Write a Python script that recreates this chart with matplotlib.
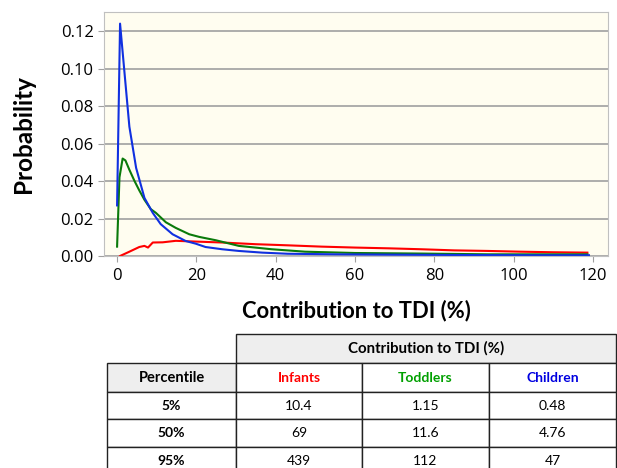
import matplotlib
matplotlib.use("Agg")
import matplotlib.pyplot as plt
from matplotlib.patches import Rectangle

# curve points
children_x = [0.0, 0.75, 3.1, 4.8, 6.9, 9.0, 11.0, 14.0, 17.3, 19.8, 22.3, 26.5, 30.7, 36.6, 43.0, 55.0, 70.0, 90.0, 105.0, 119.0]
children_y = [0.027, 0.124, 0.069, 0.047, 0.031, 0.023, 0.017, 0.0116, 0.008, 0.0066, 0.0048, 0.0036, 0.0027, 0.0018, 0.0012, 0.0009, 0.0007, 0.0005, 0.0004, 0.0004]

toddlers_x = [0.0, 0.6, 1.4, 2.1, 3.1, 4.4, 5.6, 6.9, 8.5, 9.8, 12.3, 14.8, 18.2, 20.7, 24.9, 30.7, 39.0, 47.4, 60.0, 76.7, 93.5, 118.6]
toddlers_y = [0.005, 0.042, 0.052, 0.051, 0.046, 0.040, 0.035, 0.030, 0.025, 0.023, 0.018, 0.015, 0.0116, 0.0102, 0.0084, 0.0054, 0.0036, 0.0023, 0.0016, 0.0013, 0.0009, 0.0009]

infants_x = [0.75, 3.1, 5.6, 6.9, 7.8, 9.0, 11.5, 14.8, 19.8, 26.5, 34.9, 43.0, 51.6, 60.0, 68.4, 76.7, 85.0, 93.5, 101.8, 110.0, 118.6]
infants_y = [0.0, 0.0023, 0.0048, 0.0054, 0.0045, 0.0072, 0.0073, 0.0081, 0.0077, 0.0072, 0.0063, 0.0057, 0.005, 0.0045, 0.0041, 0.0036, 0.003, 0.0027, 0.0023, 0.002, 0.0018]

# table
groups = ["Infants", "Toddlers", "Children"]
group_colors = ["#ff0000", "#00a000", "#0000e0"]
percentiles = ["5%", "50%", "95%"]
table_vals = [["10.4", "1.15", "0.48"],
              ["69", "11.6", "4.76"],
              ["439", "112", "47"]]

W, H = 617, 468
fig = plt.figure(figsize=(W / 100, H / 100), dpi=100)

ax = fig.add_axes([104 / W, 1 - 256 / H, (608 - 104) / W, (256 - 12) / H])
ax.set_facecolor("#fffdf0")
ax.plot(infants_x, infants_y, color="#ff0000", lw=1.5)
ax.plot(toddlers_x, toddlers_y, color="#0a7a0a", lw=1.5)
ax.plot(children_x, children_y, color="#1030e0", lw=1.5)
ax.set_xlim(-3.3, 123.8)
ax.set_ylim(0, 0.1302)
ax.set_xticks([0, 20, 40, 60, 80, 100, 120])
ax.set_yticks([0, 0.02, 0.04, 0.06, 0.08, 0.10, 0.12])
ax.set_yticklabels(["0.00", "0.02", "0.04", "0.06", "0.08", "0.10", "0.12"])
ax.grid(axis="y", color="#a0a0a0", lw=1.2)
ax.set_axisbelow(True)
for s in ax.spines.values():
    s.set_color("#c0c0c0")
ax.tick_params(colors="#a0a0a0", labelcolor="black", length=4, labelsize=12)
ax.tick_params(axis="x", pad=5)
for lab in ax.get_xticklabels() + ax.get_yticklabels():
    lab.set_family("Open Sans")
ax.set_ylabel("Probability", family="Lato", weight="bold", fontsize=17.5, labelpad=18)
ax.set_xlabel("Contribution to TDI (%)", family="Lato", weight="bold", fontsize=15.8, labelpad=11)

# table drawn in pixel coordinates
tx = fig.add_axes([0, 0, 1, 1])
tx.set_xlim(0, W)
tx.set_ylim(H, 0)
tx.axis("off")
cols = [107, 236, 362, 489, 616]
rows = [334, 363, 392, 419, 447, 475]


def cell(x0, x1, y0, y1, fc):
    tx.add_patch(Rectangle((x0, y0), x1 - x0, y1 - y0, facecolor=fc, edgecolor="#222222", lw=1.0))


cell(cols[1], cols[4], rows[0], rows[1], "#eeeeee")
tx.text((cols[1] + cols[4]) / 2, (rows[0] + rows[1]) / 2, "Contribution to TDI (%)",
        ha="center", va="center", family="Lato", weight="bold", fontsize=10.8)
cell(cols[0], cols[1], rows[1], rows[2], "#eeeeee")
tx.text((cols[0] + cols[1]) / 2, (rows[1] + rows[2]) / 2, "Percentile",
        ha="center", va="center", family="Lato", weight="bold", fontsize=10.5)
for j, g in enumerate(groups):
    cell(cols[j + 1], cols[j + 2], rows[1], rows[2], "white")
    tx.text((cols[j + 1] + cols[j + 2]) / 2, (rows[1] + rows[2]) / 2, g, color=group_colors[j],
            ha="center", va="center", family="Lato", weight="bold", fontsize=10)
for i, p in enumerate(percentiles):
    y0, y1 = rows[i + 2], rows[i + 3]
    cell(cols[0], cols[1], y0, y1, "white")
    tx.text((cols[0] + cols[1]) / 2, (y0 + y1) / 2, p, ha="center", va="center",
            family="Lato", weight="bold", fontsize=10)
    for j in range(3):
        cell(cols[j + 1], cols[j + 2], y0, y1, "white")
        tx.text((cols[j + 1] + cols[j + 2]) / 2, (y0 + y1) / 2, table_vals[i][j],
                ha="center", va="center", family="Lato", fontsize=10)

fig.savefig("out.png", dpi=100)
